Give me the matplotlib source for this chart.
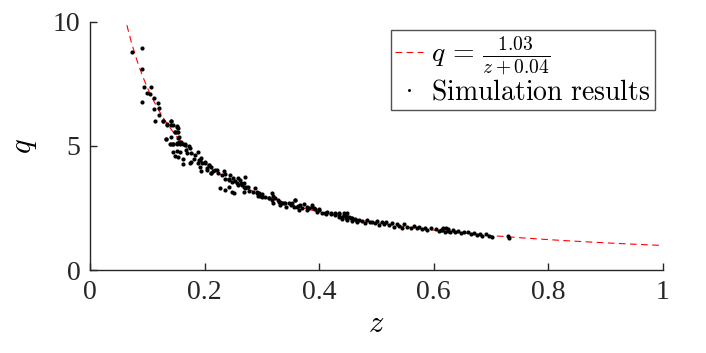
import numpy as np
import matplotlib
matplotlib.use("Agg")
import matplotlib.pyplot as plt

# fitted curve q = A / (z + B), as printed in the legend
fit_a = 1.03
fit_b = 0.04
fit_z_start = 0.06
fit_z_end = 1.0

# simulation results
sim_z = [0.074, 0.091, 0.090, 0.095, 0.106, 0.099, 0.105, 0.091, 0.112, 0.119,
         0.112, 0.120, 0.121, 0.114, 0.127, 0.135, 0.142, 0.152, 0.153, 0.144,
         0.148, 0.153, 0.133, 0.154, 0.141, 0.145, 0.151, 0.157, 0.166,
         0.128, 0.141, 0.135, 0.142, 0.152, 0.149, 0.152, 0.133, 0.142, 0.155,
         0.139, 0.145, 0.152, 0.155, 0.159, 0.162, 0.166, 0.172, 0.175, 0.144,
         0.151, 0.157, 0.154, 0.149, 0.162, 0.163, 0.168, 0.169, 0.176, 0.183,
         0.177, 0.174, 0.182, 0.188, 0.191, 0.193, 0.192, 0.194, 0.201, 0.207,
         0.204, 0.212, 0.211, 0.219, 0.233, 0.235, 0.243, 0.249, 0.259, 0.271,
         0.261, 0.268, 0.266, 0.272, 0.275, 0.278, 0.268, 0.288, 0.291, 0.295,
         0.294, 0.300, 0.305, 0.312, 0.318, 0.320, 0.323, 0.328, 0.332, 0.335,
         0.341, 0.347, 0.353, 0.356, 0.358, 0.363, 0.367, 0.373, 0.379, 0.382,
         0.388, 0.392, 0.396, 0.399, 0.405, 0.412, 0.420, 0.428, 0.434, 0.443,
         0.449, 0.434, 0.439, 0.443, 0.446, 0.449, 0.455, 0.458, 0.462, 0.466,
         0.470, 0.475, 0.480, 0.484, 0.488, 0.493, 0.497, 0.501, 0.504, 0.509,
         0.513, 0.517, 0.522, 0.527, 0.531, 0.535, 0.539, 0.544, 0.548, 0.554,
         0.560, 0.566, 0.570, 0.574, 0.579, 0.585, 0.589, 0.595, 0.604, 0.609,
         0.615, 0.621, 0.624, 0.612, 0.616, 0.620, 0.624, 0.628, 0.633, 0.637,
         0.642, 0.647, 0.653, 0.659, 0.665, 0.671, 0.675, 0.680, 0.684, 0.691,
         0.697, 0.702, 0.729, 0.732,
         0.189, 0.192, 0.196, 0.200, 0.207, 0.205, 0.211, 0.215, 0.221, 0.223,
         0.231, 0.236, 0.243, 0.245, 0.247, 0.253, 0.256, 0.259, 0.264, 0.268,
         0.271, 0.227, 0.236, 0.242, 0.247, 0.252,
         0.285, 0.291, 0.297, 0.301, 0.312, 0.318, 0.320, 0.329, 0.332, 0.338,
         0.342, 0.350, 0.358, 0.361, 0.364, 0.370, 0.379, 0.388, 0.391, 0.399,
         0.411, 0.414, 0.420, 0.428, 0.434, 0.440, 0.446, 0.452, 0.458, 0.464]
sim_q = [8.80, 8.96, 8.12, 7.38, 7.38, 7.14, 7.08, 6.79, 6.95, 6.72,
         6.49, 6.52, 6.24, 6.00, 6.00, 5.87, 6.00, 5.78, 5.71, 5.86,
         5.55, 5.55, 5.29, 5.33, 5.09, 5.09, 5.09, 5.09, 5.09,
         6.00, 6.00, 5.85, 5.85, 5.81, 5.55, 5.55, 5.29, 5.35, 5.38,
         5.07, 5.07, 5.11, 5.15, 5.15, 5.07, 5.04, 5.00, 4.90, 4.75,
         4.81, 4.77, 4.57, 4.60, 4.48, 4.26, 4.84, 4.73, 4.70, 4.64,
         4.37, 4.30, 4.46, 4.30, 4.44, 4.53, 4.14, 4.00, 4.33, 4.23,
         4.13, 4.17, 3.90, 4.03, 3.99, 3.87, 3.68, 3.72, 3.71, 3.76,
         3.63, 3.52, 3.43, 3.33, 3.33, 3.20, 3.16, 3.29, 3.16, 3.09,
         2.98, 3.05, 2.96, 2.89, 3.09, 2.98, 2.89, 2.82, 2.75, 2.69,
         2.71, 2.69, 2.69, 2.55, 2.82, 2.58, 2.62, 2.66, 2.55, 2.49,
         2.53, 2.45, 2.35, 2.45, 2.31, 2.26, 2.29, 2.31, 2.26, 2.31,
         2.29, 2.15, 2.06, 2.22, 2.08, 2.02, 2.11, 1.98, 2.06, 1.95,
         2.02, 1.98, 1.88, 2.02, 1.92, 1.95, 1.88, 1.98, 1.81, 1.92,
         1.84, 1.95, 1.81, 1.88, 1.75, 1.84, 1.79, 1.71, 1.84, 1.75,
         1.68, 1.79, 1.68, 1.75, 1.65, 1.71, 1.61, 1.68, 1.65, 1.57,
         1.63, 1.68, 1.57, 1.61, 1.68, 1.54, 1.65, 1.52, 1.61, 1.54,
         1.57, 1.48, 1.54, 1.52, 1.44, 1.48, 1.41, 1.44, 1.38, 1.44,
         1.38, 1.32, 1.38, 1.28,
         4.77, 4.44, 4.30, 4.37, 4.23, 4.03, 3.92, 4.00, 4.03, 3.90,
         3.83, 3.66, 3.63, 3.83, 3.56, 3.60, 3.49, 3.43, 3.49, 3.36,
         3.29, 3.29, 3.23, 3.36, 3.16, 3.09,
         3.16, 3.09, 2.98, 2.96, 2.89, 2.82, 2.69, 2.75, 2.62, 2.69,
         2.55, 2.62, 2.82, 2.55, 2.42, 2.49, 2.42, 2.62, 2.49, 2.42,
         2.29, 2.35, 2.26, 2.22, 2.29, 2.15, 2.22, 2.15, 2.08, 2.02]

x_ticks = [0, 0.2, 0.4, 0.6, 0.8, 1]
x_tick_labels = ['0', '0.2', '0.4', '0.6', '0.8', '1']
y_ticks = [0, 5, 10]
y_tick_labels = ['0', '5', '10']

my_fontsize = 20
axis_color = '#262626'
plt.rcParams['mathtext.fontset'] = 'cm'
plt.rcParams['font.family'] = ['Liberation Serif', 'DejaVu Serif']

fig = plt.figure(figsize=(7.06, 3.53), dpi=100)
ax = fig.add_axes([0.1275, 0.235, 0.8115, 0.703])

z_fit = np.linspace(fit_z_start, fit_z_end, 300)
q_fit = fit_a / (z_fit + fit_b)
ax.plot(z_fit, q_fit, color='red', linestyle=(0, (6, 4)), linewidth=0.8,
        label=r'$q\,=\,\frac{1.03}{z+0.04}$', zorder=2)
ax.plot(sim_z, sim_q, linestyle='none', marker='o', markersize=3.0,
        color='black', markeredgewidth=0, label=r'$\mathrm{Simulation\ results}$',
        zorder=3)

ax.set_xlim(0, 1)
ax.set_ylim(0, 10)
ax.set_xticks(x_ticks)
ax.set_xticklabels(x_tick_labels)
ax.set_yticks(y_ticks)
ax.set_yticklabels(y_tick_labels)
ax.tick_params(direction='in', length=5, width=1, labelsize=my_fontsize,
               colors=axis_color, pad=7)
for side in ['top', 'right']:
    ax.spines[side].set_visible(False)
for side in ['left', 'bottom']:
    ax.spines[side].set_color(axis_color)
    ax.spines[side].set_linewidth(1)

ax.set_xlabel(r'$z$', fontsize=my_fontsize + 2, labelpad=4)
ax.set_ylabel(r'$q$', fontsize=my_fontsize + 2, labelpad=10)

leg = ax.legend(loc='upper right', fontsize=my_fontsize, frameon=True,
                fancybox=False, handlelength=1.0, handletextpad=0.3,
                borderpad=0.15, labelspacing=0.1, borderaxespad=0.3,
                markerscale=0.7)
leg.get_frame().set_edgecolor(axis_color)
leg.get_frame().set_linewidth(1)

fig.savefig('out.png', dpi=100)
